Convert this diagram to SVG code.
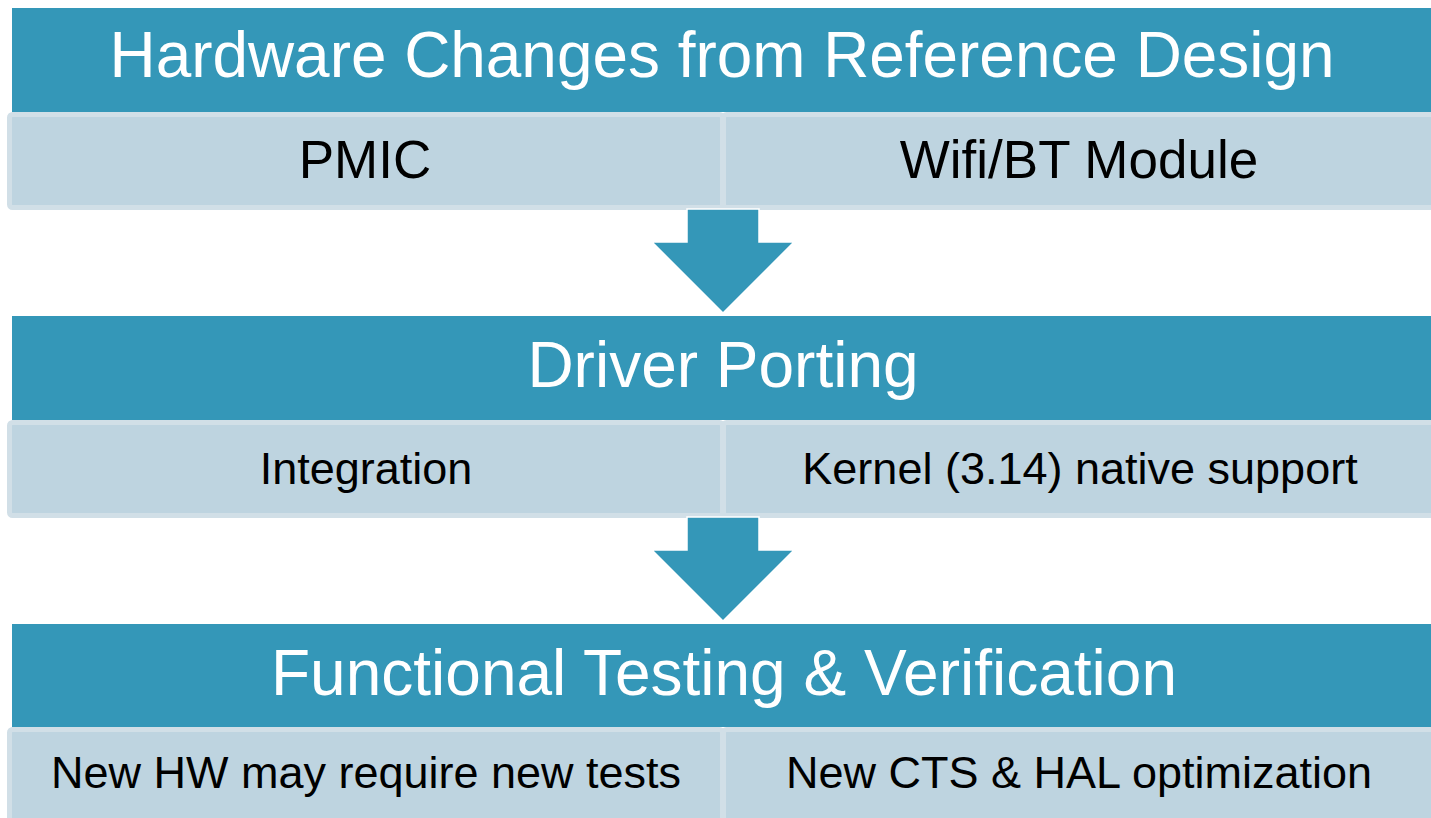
<svg xmlns="http://www.w3.org/2000/svg" width="1431" height="818" viewBox="0 0 1431 818">
<style>
.hdr{fill:#3497b8}
.sub{fill:#bed4e0;stroke:#d1dfe7;stroke-width:5}
.ht{font-family:"Liberation Sans",Arial,sans-serif;font-size:64px;fill:#ffffff;text-anchor:middle}
.st{font-family:"Liberation Sans",Arial,sans-serif;font-size:45px;fill:#000000;text-anchor:middle}
.st1{font-size:53px}
.arr{fill:#3497b8;stroke:#ffffff;stroke-width:1.5;stroke-linejoin:miter}
</style>
<rect width="1431" height="818" fill="#ffffff"/>
<g id="hw-header">
<rect class="hdr" x="12" y="8" width="1425" height="104"/>
<text class="ht" x="722" y="77" textLength="1225" lengthAdjust="spacingAndGlyphs">Hardware Changes from Reference Design</text>
</g>
<g id="hw-pmic">
<rect class="sub" x="9.5" y="114.5" width="713" height="93" rx="3"/>
<text class="st st1" x="365" y="178">PMIC</text>
</g>
<g id="hw-wifi">
<rect class="sub" x="723.5" y="114.5" width="720" height="93" rx="3"/>
<text class="st st1" x="1079" y="178">Wifi/BT Module</text>
</g>
<g id="dp-header">
<rect class="hdr" x="12" y="316" width="1425" height="104"/>
<text class="ht" x="723" y="387">Driver Porting</text>
</g>
<g id="dp-integration">
<rect class="sub" x="9.5" y="422.5" width="713" height="93" rx="3"/>
<text class="st" x="366" y="484">Integration</text>
</g>
<g id="dp-kernel">
<rect class="sub" x="723.5" y="422.5" width="720" height="93" rx="3"/>
<text class="st" x="1080" y="484">Kernel (3.14) native support</text>
</g>
<g id="ft-header">
<rect class="hdr" x="12" y="624" width="1425" height="103"/>
<text class="ht" x="724" y="695">Functional Testing &amp; Verification</text>
</g>
<g id="ft-newhw">
<rect class="sub" x="9.5" y="729.5" width="713" height="93" rx="3"/>
<text class="st" x="366" y="788">New HW may require new tests</text>
</g>
<g id="ft-cts">
<rect class="sub" x="723.5" y="729.5" width="720" height="93" rx="3"/>
<text class="st" x="1079" y="788">New CTS &amp; HAL optimization</text>
</g>
<g id="connectors">
<polygon class="arr" points="687,209 759,209 759,242 794,242 723,313 652,242 687,242"/>
<polygon class="arr" points="687,517 759,517 759,550 794,550 723,621 652,550 687,550"/>
</g>
</svg>
